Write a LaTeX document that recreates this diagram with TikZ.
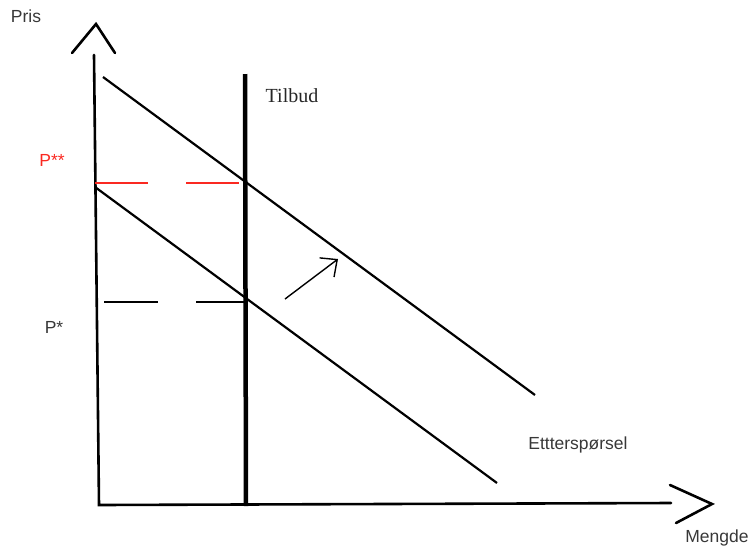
\documentclass[tikz,border=0pt]{standalone}
\usepackage{fontspec}
\setmainfont{Liberation Serif}
\setsansfont{Liberation Sans}
\usetikzlibrary{arrows.meta,positioning}
\definecolor{prisred}{rgb}{0.98,0.16,0.13}
\definecolor{tekstgraa}{rgb}{0.22,0.22,0.22}

\begin{document}
\begin{tikzpicture}[x=1pt, y=-1pt,
      akse/.style={line width=2.6pt, line cap=round},
      kurve/.style={line width=2.2pt},
      tilbudlinje/.style={line width=4.5pt},
      stiplet/.style={line width=2.4pt, dash pattern=on 53pt off 38pt},
      pil/.style={-{Straight Barb[length=13pt, width=24pt]}, line width=1.4pt},
      lbl/.style={font=\sffamily\fontsize{17.5}{21}\selectfont,
                  text=tekstgraa, inner sep=0pt}
  ]
    \useasboundingbox (0,0) rectangle (755,547);
    % akser
    \coordinate (yTopp) at (94,55);
    \coordinate (origo) at (99,505);
    \coordinate (xEnde) at (671,503);
    \draw[akse] (yTopp) -- (origo) -- (xEnde);
    \draw[akse] (72,53) -- (96,24) -- (115,53);
    \draw[akse] (670,485) -- (712,504) -- (676,523);
    % tilbud og etterspørsel
    \coordinate (tilbudTopp) at (245,74);
    \coordinate (tilbudBunn) at (246,506);
    \draw[tilbudlinje] (tilbudTopp) -- (tilbudBunn);
    \coordinate (d1a) at (103,77);
    \coordinate (d1b) at (535,395);
    \coordinate (d0a) at (95,187);
    \coordinate (d0b) at (497,483);
    \draw[kurve] (d1a) -- (d1b);
    \draw[kurve] (d0a) -- (d0b);
    % prislinjer
    \coordinate (p2a) at (95,183);
    \coordinate (p2b) at (243,183);
    \coordinate (p1a) at (104,302);
    \coordinate (p1b) at (245,302);
    \draw[stiplet, prisred] (p2a) -- (p2b);
    \draw[stiplet, dash pattern=on 54pt off 38pt] (p1a) -- (p1b);
    % skift
    \coordinate (skiftFra) at (285,299);
    \coordinate (skiftTil) at (338,259);
    \draw[pil] (skiftFra) -- (skiftTil);
    % tekst
    \node[lbl] (pris) at (26,16) {Pris};
    \node[lbl] (mengde) at (717,538) {Mengde};
    \node[lbl, text=prisred] (p2) at (52,160) {P**};
    \node[lbl] (p1) at (54,327) {P*};
    \node[lbl] (ettersp) at (578,445) {Etttersp\o rsel};
    \node[font=\fontsize{20}{24}\selectfont, text=black!85, inner sep=0pt] (tilbud) at (292,96) {Tilbud};
  \end{tikzpicture}
\end{document}
